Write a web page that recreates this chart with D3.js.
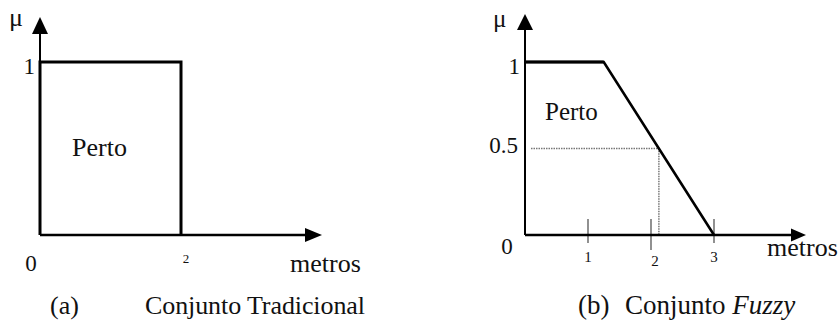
<!DOCTYPE html>
<html>
<head>
<meta charset="utf-8">
<script src="https://cdn.jsdelivr.net/npm/d3@7"></script>
<style>
  body { margin: 0; background: #fff; }
  text { font-family: "Liberation Serif", "Times New Roman", serif; fill: #111; }
</style>
</head>
<body>
<div id="chart-area"></div>
<script>
// data
const crispSet = [[0, 0], [0, 1], [2, 1], [2, 0]];          // conjunto tradicional
const fuzzySet = [[0, 1], [1.25, 1], [3, 0]];               // conjunto fuzzy
const fuzzyTicks = [1, 2, 3];
const cutLevel = 0.5;
const labels = { y: "\u03bc", x: "metros", set: "Perto" };

const full_width = 838, full_height = 322;

const svg = d3.select("#chart-area")
    .append("svg")
    .attr("width", full_width)
    .attr("height", full_height);

function arrow(g, pts) {
    g.append("path")
        .attr("d", "M" + pts.join("L") + "Z")
        .attr("fill", "#000");
}

// ---------- (a) Conjunto Tradicional ----------
const xa = d3.scaleLinear().domain([0, 2]).range([40, 181]);
const ya = d3.scaleLinear().domain([0, 1]).range([235, 62]);
const ga = svg.append("g");

// axes
ga.append("line")
    .attr("x1", xa(0)).attr("y1", ya(0))
    .attr("x2", xa(0)).attr("y2", 33)
    .attr("stroke", "#000").attr("stroke-width", 2);
arrow(ga, [[xa(0) - 8, 34], [xa(0), 17], [xa(0) + 8, 34]]);
ga.append("line")
    .attr("x1", xa(0)).attr("y1", ya(0))
    .attr("x2", 306).attr("y2", ya(0))
    .attr("stroke", "#000").attr("stroke-width", 2.5);
arrow(ga, [[305, ya(0) - 7], [322, ya(0)], [305, ya(0) + 7]]);

const line_a = d3.line().x(d => xa(d[0])).y(d => ya(d[1]));
ga.append("path")
    .attr("d", line_a(crispSet))
    .attr("fill", "none")
    .attr("stroke", "#000")
    .attr("stroke-width", 3);

ga.append("text").attr("x", 9).attr("y", 26).attr("font-size", "26px").text(labels.y);
ga.append("text").attr("x", 35).attr("y", 74).attr("font-size", "23px")
    .attr("text-anchor", "end").text("1");
ga.append("text").attr("x", 31).attr("y", 271).attr("font-size", "23px")
    .attr("text-anchor", "middle").text("0");
ga.append("text").attr("x", xa(2) + 5).attr("y", 263).attr("font-size", "13px")
    .attr("text-anchor", "middle").text("2");
ga.append("text").attr("x", 290).attr("y", 272).attr("font-size", "26px").text(labels.x);
ga.append("text").attr("x", 72).attr("y", 156).attr("font-size", "26px").text(labels.set);
ga.append("text").attr("x", 50).attr("y", 314).attr("font-size", "26px").text("(a)");
ga.append("text").attr("x", 145).attr("y", 314).attr("font-size", "26px")
    .attr("textLength", 220).text("Conjunto Tradicional");

// ---------- (b) Conjunto Fuzzy ----------
const xb = d3.scaleLinear().domain([0, 3]).range([525, 714]);
const yb = d3.scaleLinear().domain([0, 1]).range([235, 62]);
const gb = svg.append("g");

// dotted cut at 0.5
const seg = fuzzySet.slice(1);
const cutX = seg[0][0] + (seg[0][1] - cutLevel) / (seg[0][1] - seg[1][1]) * (seg[1][0] - seg[0][0]);
gb.append("path")
    .attr("d", "M" + (xb(0) + 6) + "," + yb(cutLevel) + "H" + xb(cutX) + "V" + yb(0))
    .attr("fill", "none")
    .attr("stroke", "#777")
    .attr("stroke-width", 1.5)
    .attr("stroke-dasharray", "1.5,1");

// ticks
gb.selectAll(".tick")
    .data(fuzzyTicks)
    .enter()
    .append("line")
        .attr("class", "tick")
        .attr("x1", d => xb(d)).attr("x2", d => xb(d))
        .attr("y1", yb(0) - 16)
        .attr("y2", d => yb(0) + (d === 2 ? 15 : 8))
        .attr("stroke", "#555")
        .attr("stroke-width", 1.3);
gb.selectAll(".tick-label")
    .data(fuzzyTicks)
    .enter()
    .append("text")
        .attr("class", "tick-label")
        .attr("x", d => xb(d) + (d === 2 ? 4 : 0))
        .attr("y", d => d === 2 ? 266 : 262)
        .attr("font-size", "15px")
        .attr("text-anchor", "middle")
        .text(d => d);

// axes
gb.append("line")
    .attr("x1", xb(0)).attr("y1", yb(0))
    .attr("x2", xb(0)).attr("y2", 29)
    .attr("stroke", "#000").attr("stroke-width", 2);
arrow(gb, [[xb(0) - 8, 30], [xb(0), 14], [xb(0) + 8, 30]]);
gb.append("line")
    .attr("x1", xb(0)).attr("y1", yb(0))
    .attr("x2", 792).attr("y2", yb(0))
    .attr("stroke", "#000").attr("stroke-width", 2.5);
arrow(gb, [[791, yb(0) - 6.5], [806, yb(0)], [791, yb(0) + 6.5]]);

const line_b = d3.line().x(d => xb(d[0])).y(d => yb(d[1]));
gb.append("path")
    .attr("d", line_b(fuzzySet))
    .attr("fill", "none")
    .attr("stroke", "#000")
    .attr("stroke-width", 2.6);
gb.append("path")
    .attr("d", line_b(fuzzySet.slice(0, 2)))
    .attr("fill", "none")
    .attr("stroke", "#000")
    .attr("stroke-width", 3);

gb.append("text").attr("x", 493).attr("y", 27).attr("font-size", "25px").text(labels.y);
gb.append("text").attr("x", 520).attr("y", 74).attr("font-size", "23px")
    .attr("text-anchor", "end").text("1");
gb.append("text").attr("x", 518).attr("y", 153).attr("font-size", "23px")
    .attr("text-anchor", "end").text(cutLevel);
gb.append("text").attr("x", 507).attr("y", 254).attr("font-size", "23px")
    .attr("text-anchor", "middle").text("0");
gb.append("text").attr("x", 767).attr("y", 256).attr("font-size", "26px").text(labels.x);
gb.append("text").attr("x", 545).attr("y", 120).attr("font-size", "25px").text(labels.set);

const cap = gb.append("text").attr("x", 578).attr("y", 314).attr("font-size", "27px");
cap.append("tspan").text("(b)");
cap.append("tspan").attr("x", 625).text("Conjunto ");
cap.append("tspan").attr("font-style", "italic").text("Fuzzy");
</script>
</body>
</html>
